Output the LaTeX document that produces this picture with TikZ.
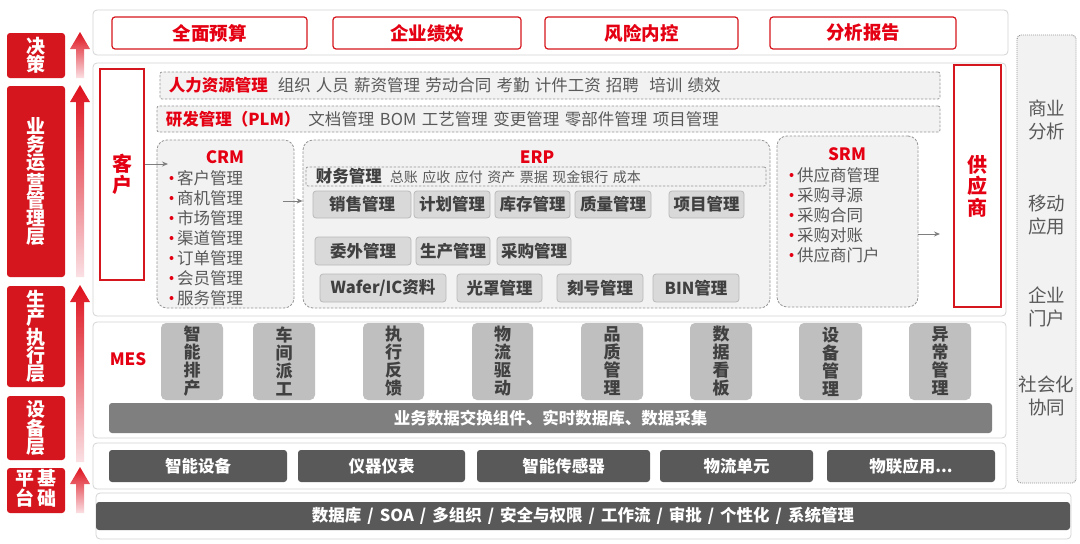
\documentclass[tikz,border=0pt]{standalone}
\usepackage{fontspec}
\setmainfont{Noto Sans CJK SC}
\usetikzlibrary{arrows.meta}
\definecolor{redtxt}{RGB}{228,0,18}
\definecolor{redbox}{RGB}{214,22,30}
\definecolor{arrtop}{RGB}{222,16,28}
\definecolor{arrbot}{RGB}{250,224,228}
\definecolor{panelgray}{RGB}{212,212,212}
\definecolor{dashgray}{RGB}{150,150,150}
\definecolor{barfill}{RGB}{242,242,242}
\definecolor{modfill}{RGB}{242,242,242}
\definecolor{erpfill}{RGB}{217,217,217}
\definecolor{erpborder}{RGB}{185,185,185}
\definecolor{mesfill}{RGB}{191,191,191}
\definecolor{databar}{RGB}{127,127,127}
\definecolor{darkfill}{RGB}{89,89,89}
\definecolor{graytxt}{RGB}{89,89,89}
\definecolor{darktxt}{RGB}{64,64,64}
\definecolor{arrgray}{RGB}{127,127,127}

\newcommand\fsz[2]{\fontsize{#1}{#2}\selectfont}

\newcommand\mybox[7]{%
 \pgfmathsetmacro\mbw{#4-#2}\pgfmathsetmacro\mbh{#5-#3}%
 \pgfmathsetmacro\mbx{(#2+#4)/2}\pgfmathsetmacro\mby{(#3+#5)/2}%
 \node[#6,minimum width=\mbw pt,minimum height=\mbh pt,inner sep=0pt] (#1) at (\mbx,\mby) {#7};}

\newcommand\layerarrow[2]{%
 \pgfmathsetmacro\hb{#1+17}%
 \shade[top color=arrtop,bottom color=arrbot] (76,#2) -- (76,\hb) -- (70,\hb) -- (80,#1) -- (90,\hb) -- (84,\hb) -- (84,#2) -- cycle;}

\begin{document}
\begin{tikzpicture}[x=1pt,y=-1pt,
 panel/.style={draw=panelgray,line width=0.8pt,fill=white,rounded corners=4pt},
 topbox/.style={draw=redbox,line width=1.2pt,fill=white,rounded corners=3pt,text=redtxt,font={\fsz{18.5}{20}\bfseries}},
 sidebox/.style={draw=redbox,line width=1.2pt,fill=white,text=redtxt,font={\fsz{20}{21.5}\bfseries},align=center},
 layerbox/.style={fill=redbox,rounded corners=3pt,text=white,font={\fsz{19}{18.3}\bfseries},align=center},
 dashbar/.style={draw=dashgray,dash pattern=on 2.5pt off 1.5pt,line width=0.8pt,fill=barfill,rounded corners=2pt},
 module/.style={draw=dashgray,dash pattern=on 2.5pt off 1.5pt,line width=0.8pt,fill=modfill,rounded corners=10pt},
 modtitle/.style={inner sep=0pt,text=redtxt,font={\fsz{17}{18}\bfseries}},
 erpbox/.style={draw=erpborder,line width=0.8pt,fill=erpfill,rounded corners=3pt,text=darktxt,font={\fsz{16.5}{18}\bfseries}},
 mesbox/.style={fill=mesfill,rounded corners=5pt,text=darktxt,font={\fsz{17}{18}\bfseries},align=center},
 darkbox/.style={fill=darkfill,rounded corners=3pt,text=white,font={\fsz{16.5}{18}\bfseries}},
 databox/.style={fill=databar,rounded corners=3pt,text=white,font={\fsz{16.5}{18}\bfseries}},
 item/.style={anchor=west,inner sep=0pt,text=graytxt,font={\fsz{16.5}{18}}},
 sidecol/.style={draw=dashgray,dash pattern=on 1pt off 1pt,line width=0.9pt,fill=barfill,rounded corners=4pt},
 sidetxt/.style={inner sep=0pt,text=graytxt,font={\fsz{18.5}{23}},align=center},
 garrow/.style={draw=arrgray,line width=0.9pt,-{Stealth[length=6pt,width=5pt]}}]
\useasboundingbox[fill=white] (0,0) rectangle (1080,544);

% left layer labels
\mybox{L1}{7}{33}{65}{78}{layerbox}{决\\策}
\mybox{L2}{7}{86}{65}{277}{layerbox}{业\\务\\运\\营\\管\\理\\层}
\mybox{L3}{7}{286}{65}{387}{layerbox}{生\\产\\执\\行\\层}
\mybox{L4}{7}{396}{65}{460}{layerbox}{设\\备\\层}
\mybox{L5}{7}{468}{65}{513}{layerbox}{\begin{tabular}{@{}c@{\hspace{3pt}}c@{}}平&基\\[-2pt]台&础\end{tabular}}

\layerarrow{32}{78}
\layerarrow{85}{277}
\layerarrow{285}{462}
\layerarrow{467}{513}

% decision layer
\mybox{top}{93}{10}{1008}{55}{panel}{}
\mybox{t1}{112}{17}{307}{49}{topbox}{全面预算}
\mybox{t2}{333}{17}{521}{49}{topbox}{企业绩效}
\mybox{t3}{545}{17}{738}{49}{topbox}{风险内控}
\mybox{t4}{770}{17}{956}{49}{topbox}{分析报告}

% business layer
\mybox{main}{93}{63}{1006}{316}{panel}{}
\mybox{kehu}{100}{69}{144}{280}{sidebox}{客\\户}
\mybox{gys}{954}{65}{1001}{307}{sidebox}{供\\应\\商}

\mybox{hr}{160}{72}{940}{99}{dashbar}{}
\node[anchor=west,inner sep=0pt,font={\fsz{16.5}{18}}] (hrt) at ([xshift=9pt]hr.west) {{\color{redtxt}\bfseries 人力资源管理}\hspace{10pt}{\color{graytxt}\spaceskip=5.2pt\relax 组织 人员 薪资管理 劳动合同 考勤 计件工资 招聘\ \ 培训 绩效}};

\mybox{plm}{157}{106}{940}{132}{dashbar}{}
\node[anchor=west,inner sep=0pt,font={\fsz{16.5}{18}}] (plmt) at ([xshift=9pt]plm.west) {{\color{redtxt}\bfseries 研发管理（PLM）}\hspace{8pt}{\color{graytxt}\spaceskip=5.5pt\relax 文档管理 BOM 工艺管理 变更管理 零部件管理 项目管理}};

% CRM
\mybox{crm}{157}{140}{294}{308}{module}{}
\node[modtitle] (crmt) at (225,157) {CRM};
\foreach \t [count=\i] in {客户管理,商机管理,市场管理,渠道管理,订单管理,会员管理,服务管理}{
  \node[item] (crm\i) at (177,158+20*\i) {\t};
  \fill[redtxt] ([xshift=-5.5pt]crm\i.west) circle (2pt);
}

% ERP
\mybox{erp}{303}{140}{770}{308}{module}{}
\node[modtitle] (erpt) at (537,157) {ERP};
\mybox{fin}{306}{167}{766}{186}{dashbar}{}
\node[anchor=west,inner sep=0pt] (fint) at ([xshift=10pt]fin.west) {{\fsz{16.5}{18}\bfseries\color{darktxt}财务管理}\hspace{8pt}{\fsz{14}{15}\color{graytxt}\spaceskip=4.5pt\relax 总账 应收 应付 资产 票据 现金银行 成本}};
\mybox{e1}{313}{191}{411}{218}{erpbox}{销售管理}
\mybox{e2}{414}{191}{490}{218}{erpbox}{计划管理}
\mybox{e3}{495}{191}{570}{218}{erpbox}{库存管理}
\mybox{e4}{575}{191}{651}{218}{erpbox}{质量管理}
\mybox{e5}{669}{191}{744}{218}{erpbox}{项目管理}
\mybox{e6}{315}{237}{411}{265}{erpbox}{委外管理}
\mybox{e7}{416}{237}{490}{265}{erpbox}{生产管理}
\mybox{e8}{497}{237}{571}{265}{erpbox}{采购管理}
\mybox{e9}{320}{274}{446}{302}{erpbox}{Wafer/IC资料}
\mybox{e10}{457}{274}{542}{302}{erpbox}{光罩管理}
\mybox{e11}{557}{274}{643}{302}{erpbox}{刻号管理}
\mybox{e12}{653}{274}{739}{302}{erpbox}{BIN管理}

% SRM
\mybox{srm}{777}{136}{918}{307}{module}{}
\node[modtitle] (srmt) at (847,154) {SRM};
\foreach \t [count=\i] in {供应商管理,采购寻源,采购合同,采购对账,供应商门户}{
  \node[item] (srm\i) at (797,155+20*\i) {\t};
  \fill[redtxt] ([xshift=-5.5pt]srm\i.west) circle (2pt);
}

% connectors
\coordinate (a1e) at (168,164);
\draw[garrow] (kehu.east |- a1e) -- (a1e);
\coordinate (a2s) at (283,201);
\draw[garrow] (a2s) -- (erp.west |- a2s);
\coordinate (a3e) at (940,234);
\draw[garrow] (srm.east |- a3e) -- (a3e);

% MES layer
\mybox{mes}{93}{322}{1006}{438}{panel}{}
\node[modtitle] (mest) at (128,359) {MES};
\mybox{m1}{161}{323}{223}{400}{mesbox}{智\\能\\排\\产}
\mybox{m2}{253}{323}{315}{400}{mesbox}{车\\间\\派\\工}
\mybox{m3}{363}{323}{424}{400}{mesbox}{执\\行\\反\\馈}
\mybox{m4}{472}{323}{533}{400}{mesbox}{物\\流\\驱\\动}
\mybox{m5}{581}{323}{643}{400}{mesbox}{品\\质\\管\\理}
\mybox{m6}{690}{323}{752}{400}{mesbox}{数\\据\\看\\板}
\mybox{m7}{799}{323}{862}{400}{mesbox}{设\\备\\管\\理}
\mybox{m8}{909}{323}{971}{400}{mesbox}{异\\常\\管\\理}
\mybox{dbar}{109}{403}{992}{433}{databox}{业务数据交换组件、实时数据库、数据采集}

% device layer
\mybox{dev}{93}{443}{1006}{489}{panel}{}
\mybox{d1}{109}{450}{287}{482}{darkbox}{智能设备}
\mybox{d2}{298}{450}{465}{482}{darkbox}{仪器仪表}
\mybox{d3}{477}{450}{650}{482}{darkbox}{智能传感器}
\mybox{d4}{660}{450}{813}{482}{darkbox}{物流单元}
\mybox{d5}{827}{450}{995}{482}{darkbox}{物联应用...}

% platform layer
\mybox{plat}{96}{493}{1071}{539}{panel}{}
\mybox{pbar}{96}{502}{1070}{530}{darkbox}{\spaceskip=6pt\relax 数据库 / SOA / 多组织 / 安全与权限 / 工作流 / 审批 / 个性化 / 系统管理}

% right column
\mybox{side}{1017}{35}{1076}{483}{sidecol}{}
\node[sidetxt] (s1) at (1046.5,119.5) {商业\\分析};
\node[sidetxt] (s2) at (1046.5,215) {移动\\应用};
\node[sidetxt] (s3) at (1046.5,307) {企业\\门户};
\node[sidetxt] (s4) at (1046.5,396) {社会化\\协同};
\end{tikzpicture}
\end{document}
